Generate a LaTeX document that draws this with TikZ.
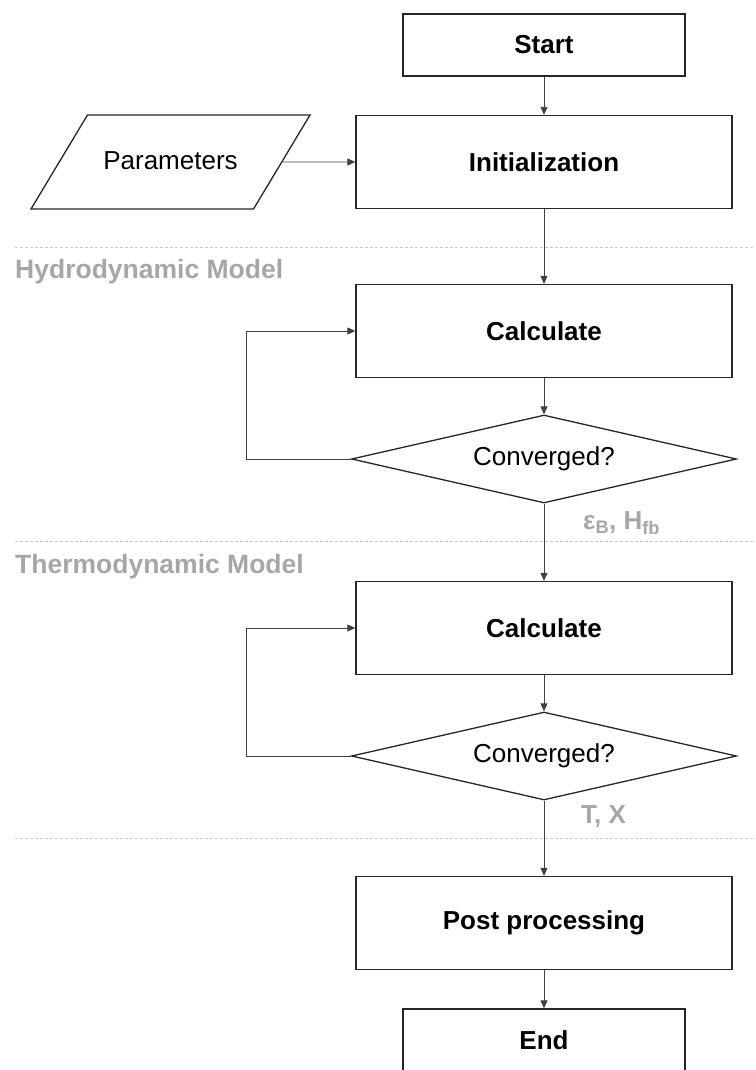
\documentclass[tikz,border=0pt]{standalone}
\usepackage{fontspec}
\setmainfont{Liberation Sans}
\usetikzlibrary{shapes.geometric,arrows.meta,positioning}
\definecolor{lblgray}{HTML}{A6A6A6}
\definecolor{sepgray}{HTML}{C8C8C8}
\definecolor{linegray}{HTML}{404040}

\begin{document}
\begin{tikzpicture}[x=1pt,y=-1pt,
  box/.style={draw=black!85,line width=1.3pt,minimum width=376pt,minimum height=93pt,inner sep=0pt,font=\fontsize{26}{30}\selectfont\bfseries},
  endbox/.style={box,minimum width=282pt,minimum height=62pt},
  decision/.style={draw=black!85,line width=1.3pt,diamond,aspect=4.4,minimum width=385pt,minimum height=88pt,inner sep=0pt,font=\fontsize{26}{30}\selectfont},
  io/.style={draw=black!85,line width=1.3pt,trapezium,trapezium left angle=59,trapezium right angle=121,trapezium stretches body,minimum width=279pt,text height=19pt,text depth=5pt,inner ysep=35pt,inner xsep=0pt,font=\fontsize{26}{30}\selectfont},
  arr/.style={-{Triangle[length=8pt,width=7pt]},linegray,line width=0.9pt},
  sepline/.style={sepgray,line width=0.8pt,dash pattern=on 3pt off 2pt},
  model/.style={anchor=base west,inner sep=0pt,lblgray,font=\fontsize{26.5}{30}\selectfont\bfseries},
  flowlbl/.style={anchor=west,inner sep=0pt,lblgray,font=\fontsize{26}{30}\selectfont\bfseries}]
\useasboundingbox (0,0) rectangle (755,1070);

% separators
\draw[sepline] (15,247) -- (755,247);
\draw[sepline] (15,541) -- (755,541);
\draw[sepline] (15,838) -- (755,838);
\node[model] (hydro) at (15,278) {Hydrodynamic Model};
\node[model] (thermo) at (15,573) {Thermodynamic Model};

\node[endbox] (start) at (544,45) {Start};
\node[box] (init) at (544,162) {Initialization};
\node[io] (params) at (170.5,162) {Parameters};

\node[box] (calc1) at (544,331) {Calculate};
\node[decision] (conv1) at (544,459) {Converged?};
\coordinate (loop1) at (246,459);

\node[box] (calc2) at (544,628) {Calculate};
\node[decision] (conv2) at (544,756) {Converged?};
\coordinate (loop2) at (246,756);

\node[box] (post) at (544,923) {Post processing};
\node[endbox] (end) at (544,1040) {End};

\node[flowlbl] (hydroout) at (583,523) {ε\textsubscript{B}, H\textsubscript{fb}};
\node[flowlbl] (thermoout) at (581,817) {T, X};

\draw[arr] (start) -- (init);
\draw[arr] (params) -- (init);
\draw[arr] (init) -- (calc1);
\draw[arr] (calc1) -- (conv1);
\draw[arr] (conv1.west) -- (loop1) |- (calc1.west);
\draw[arr] (conv1) -- (calc2);
\draw[arr] (calc2) -- (conv2);
\draw[arr] (conv2.west) -- (loop2) |- (calc2.west);
\draw[arr] (conv2) -- (post);
\draw[arr] (post) -- (end);
\end{tikzpicture}
\end{document}
